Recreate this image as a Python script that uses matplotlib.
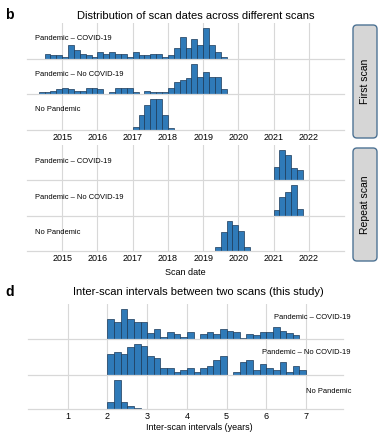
import numpy as np
import matplotlib
matplotlib.use("Agg")
import matplotlib.pyplot as plt
from matplotlib.patches import FancyBboxPatch

plt.rcParams["font.family"] = ["Liberation Sans", "DejaVu Sans"]

# ---- data (counts per 2-month bin) ----
groups = ["Pandemic – COVID-19", "Pandemic – No COVID-19", "No Pandemic"]

# first scan dates
first_start = [2014.5, 2014 + 2 / 6, 2017.0]
first_covid = [3, 2, 2, 1, 8, 5, 3, 2, 1, 4, 3, 4, 3, 3, 1, 4, 2, 2, 3, 3, 1, 2,
               6, 12, 6, 11, 8, 17, 8, 4, 1]
first_nocovid = [1, 1, 2, 3, 4, 3, 2, 2, 4, 4, 3, 0, 1, 4, 4, 4, 1, 0, 2, 1, 1, 1,
                 4, 8, 9, 10, 19, 11, 14, 11, 11, 3]
first_nopand = [2, 9, 15, 18, 18, 9, 1]

# repeat scan dates
repeat_start = [2021.0, 2021.0, 2019 + 2 / 6]
repeat_covid = [8, 18, 15, 7, 6]
repeat_nocovid = [3, 11, 14, 18, 4]
repeat_nopand = [3, 13, 21, 18, 14, 3]

# inter-scan intervals (years)
interval_start = [2.0, 2.0, 2.0]
interval_covid = [20, 17, 30, 20, 17, 17, 6, 10, 2, 7, 5, 2, 7, 0, 5, 7, 5, 10, 8,
                  7, 1, 5, 4, 7, 7, 12, 8, 6, 4]
interval_nocovid = [20, 22, 20, 27, 30, 28, 18, 16, 6, 6, 2, 4, 6, 2, 6, 8, 14, 18,
                    0, 2, 12, 14, 4, 10, 6, 4, 12, 2, 8, 4]
interval_nopand = [10, 40, 9, 4, 1]

year_ticks = list(range(2015, 2023))
interval_ticks = list(range(1, 8))
BIN = 1 / 6

W, H = 387, 437
BLUE = "#2f7ab8"
EDGE = "#1b3957"
GRID = "#d8d8d8"

fig = plt.figure(figsize=(W / 100, H / 100), dpi=100)

# full-figure overlay in pixel coordinates for titles and side boxes
ov = fig.add_axes([0, 0, 1, 1])
ov.set_xlim(0, W)
ov.set_ylim(H, 0)
ov.axis("off")


def px_axes(left, top, right, bottom):
    return fig.add_axes([left / W, 1 - bottom / H, (right - left) / W, (bottom - top) / H])


def draw_row(ax, start, counts, xlim, ticks, show_ticks):
    edges = start + np.arange(len(counts)) * BIN
    ax.bar(edges, counts, width=BIN, align="edge", color=BLUE, edgecolor=EDGE,
           linewidth=0.5, zorder=2)
    ax.set_xlim(*xlim)
    ax.set_ylim(0, max(counts) * 1.18)
    ax.set_xticks(ticks)
    ax.set_yticks([])
    ax.grid(axis="x", color=GRID, lw=0.8, zorder=0)
    for s in ["top", "left", "right"]:
        ax.spines[s].set_visible(False)
    ax.spines["bottom"].set_color(GRID)
    ax.spines["bottom"].set_linewidth(0.9)
    ax.tick_params(length=0, labelsize=6.5, pad=2.5)
    if not show_ticks:
        ax.set_xticklabels([])
    ax.patch.set_alpha(0)


LABEL_FS = 5.4

# ---- panel b: first scan ----
rows_first = [first_covid, first_nocovid, first_nopand]
tops = [23, 59, 94, 130]
for i, counts in enumerate(rows_first):
    ax = px_axes(27, tops[i], 344, tops[i + 1])
    draw_row(ax, first_start[i], counts, (2014, 2023), year_ticks, i == 2)
    ax.text(0.025, 0.56, groups[i], transform=ax.transAxes, fontsize=LABEL_FS, va="center")

# ---- panel b: repeat scan ----
rows_repeat = [repeat_covid, repeat_nocovid, repeat_nopand]
tops = [144.5, 180, 215.5, 251]
for i, counts in enumerate(rows_repeat):
    ax = px_axes(27, tops[i], 344, tops[i + 1])
    draw_row(ax, repeat_start[i], counts, (2014, 2023), year_ticks, i == 2)
    ax.text(0.025, 0.52, groups[i], transform=ax.transAxes, fontsize=LABEL_FS, va="center")
    if i == 2:
        ax.set_xlabel("Scan date", fontsize=6.5, labelpad=3)

# ---- panel d: intervals ----
rows_int = [interval_covid, interval_nocovid, interval_nopand]
tops = [304, 339, 374.5, 409]
label_y = [0.62, 0.62, 0.5]
for i, counts in enumerate(rows_int):
    ax = px_axes(28, tops[i], 343, tops[i + 1])
    draw_row(ax, interval_start[i], counts, (0, 7.93), interval_ticks, i == 2)
    ax.text(1.025, label_y[i], groups[i], transform=ax.transAxes, fontsize=LABEL_FS,
            va="center", ha="right")
    if i == 2:
        ax.set_xlabel("Inter-scan intervals (years)", fontsize=6.5, labelpad=3)
        ax.xaxis.set_label_coords((199 - 28) / 315, -0.42)

# ---- titles and panel letters ----
ov.text(5, 15, "b", fontsize=10, fontweight="bold", va="center", ha="left")
ov.text(196, 16, "Distribution of scan dates across different scans",
        fontsize=8, ha="center", va="center")
ov.text(5, 292, "d", fontsize=10, fontweight="bold", va="center", ha="left")
ov.text(198, 292, "Inter-scan intervals between two scans (this study)",
        fontsize=8, ha="center", va="center")

# ---- side boxes ----
for y0, y1, txt in [(25, 138, "First scan"), (148, 261, "Repeat scan")]:
    box = FancyBboxPatch((353, y0), 24, y1 - y0,
                         boxstyle="round,pad=0,rounding_size=4",
                         facecolor="#d6d6d6", edgecolor="#4e7394", linewidth=1.0)
    ov.add_patch(box)
    ov.text(365, (y0 + y1) / 2, txt, rotation=90, fontsize=7.5,
            ha="center", va="center")

fig.savefig("out.png", dpi=100)
